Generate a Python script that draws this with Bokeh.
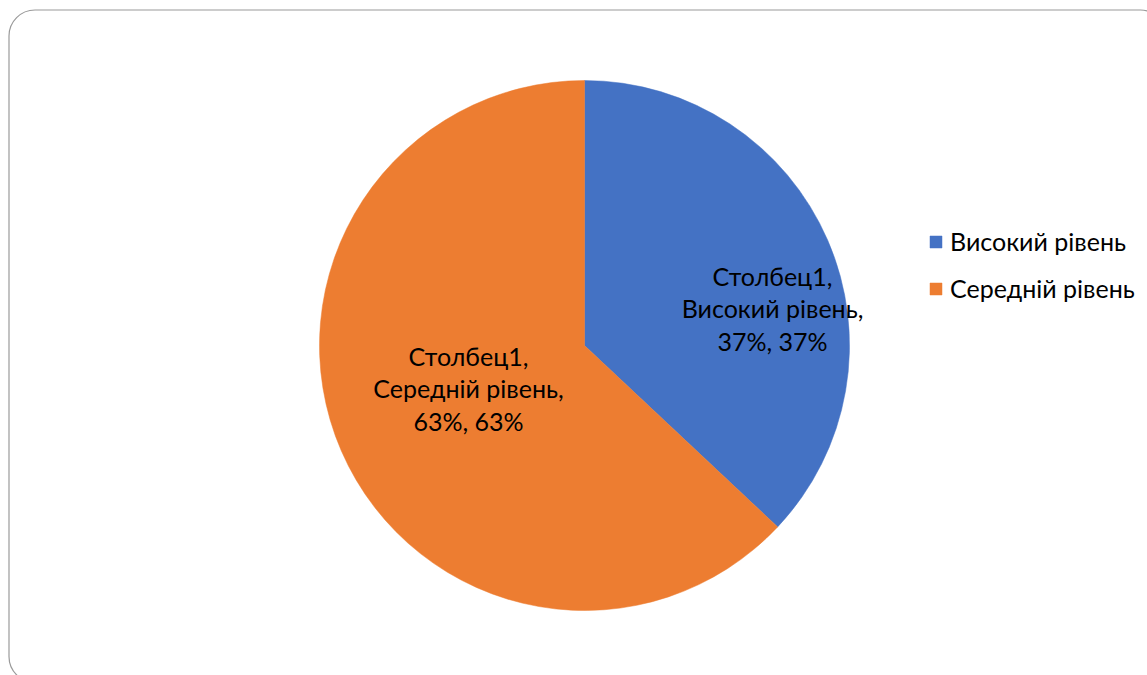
import math
from bokeh.plotting import figure
from bokeh.models import Range1d, ColumnDataSource, Legend, LegendItem, BoxAnnotation
from bokeh.core.properties import value
from bokeh.embed import file_html
from bokeh.resources import INLINE

# ---- data ----
categories = ["Високий рівень", "Середній рівень"]
percents = [37, 63]
series_name = "Столбец1"
colors = ["#4472C4", "#ED7D31"]

FONT = "Lato"
W, H = 1147, 675
CX, CY, R = 584, 330, 265

total = sum(percents)
starts, ends = [], []
acc = 0.0
for v in percents:
    a0 = math.pi / 2 - 2 * math.pi * acc / total
    acc += v
    a1 = math.pi / 2 - 2 * math.pi * acc / total
    starts.append(a0)
    ends.append(a1)

labels = [f"{series_name},\n{c},\n{v}%, {v}%" for c, v in zip(categories, percents)]
# label anchor positions (layout only)
label_x = [772, 468]
label_y = [367, 287]

src = ColumnDataSource(dict(cat=categories, val=percents, start=starts, end=ends,
                            color=colors, label=labels, lx=label_x, ly=label_y))

p = figure(width=W, height=H, output_backend="svg", toolbar_location=None,
           x_range=Range1d(0, W), y_range=Range1d(0, H),
           x_axis_location=None, y_axis_location=None, min_border=0)
p.grid.visible = False
p.outline_line_color = None
p.background_fill_color = "white"
p.border_fill_color = "white"

border = BoxAnnotation(left=8.5, right=1166, top=665.5, bottom=-7, border_radius=26,
                       fill_alpha=0, line_color="#9a9a9a", line_alpha=1.0, line_width=1.2)
p.add_layout(border)

wedges = p.wedge(x=CX, y=CY, radius=R, start_angle="start", end_angle="end",
                 direction="clock", fill_color="color", line_color="color", line_width=0.5,
                 source=src)

p.text(x="lx", y="ly", text="label", source=src, text_align="center",
       text_baseline="middle", text_font=value(FONT), text_font_size="25px",
       text_color="black", text_line_height=1.08)

items = [LegendItem(label=c, renderers=[wedges], index=i) for i, c in enumerate(categories)]
legend = Legend(items=items, location=(928, 372), orientation="vertical",
                glyph_width=15, glyph_height=15, label_height=24, spacing=17,
                label_standoff=7, padding=0, margin=0,
                border_line_alpha=0, background_fill_alpha=0,
                label_text_font=FONT, label_text_font_size="25px", label_text_color="black")
p.add_layout(legend, "center")

open("out.html", "w").write(file_html(p, INLINE))
